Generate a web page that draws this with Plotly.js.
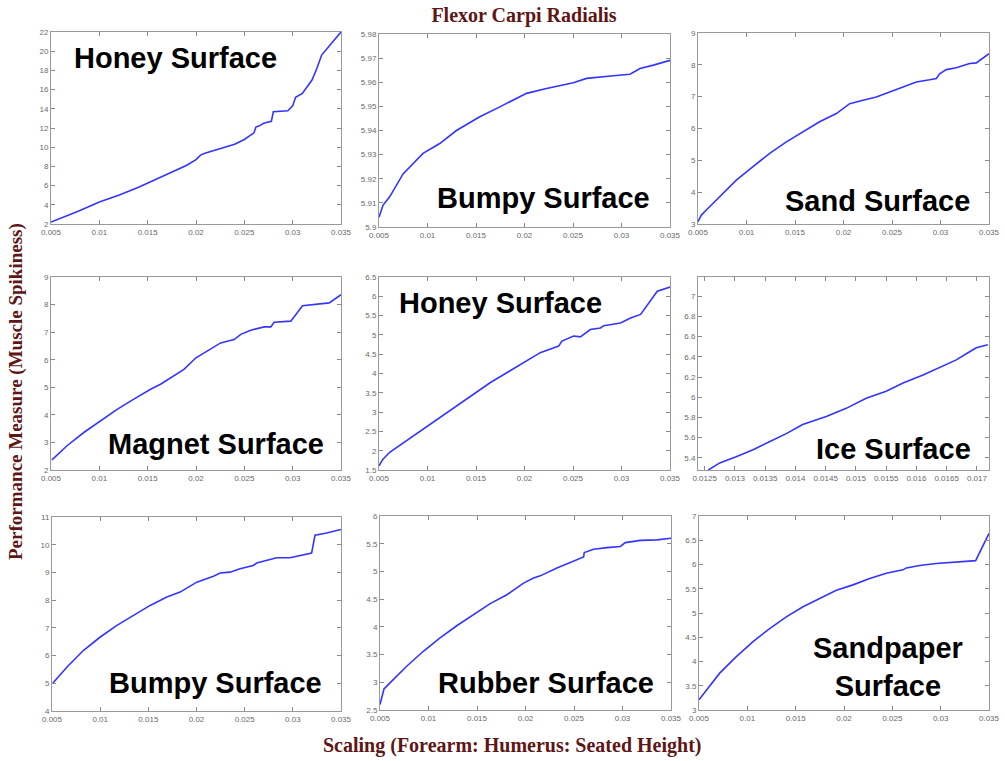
<!DOCTYPE html>
<html>
<head>
<meta charset="utf-8">
<script src="https://cdn.plot.ly/plotly-3.0.1.min.js"></script>
<style>html,body{margin:0;padding:0;background:#fff;}#chart{width:1005px;height:761px;}</style>
</head>
<body>
<div id="chart"></div>
<script>
// ---------- Data ----------
var panelLabels = ["Honey Surface","Bumpy Surface","Sand Surface","Magnet Surface","Honey Surface","Ice Surface","Bumpy Surface","Rubber Surface","Sandpaper<br>Surface"];

var honey1X = [0.005,0.006,0.008,0.010,0.012,0.014,0.016,0.018,0.019,0.020,0.0205,0.021,0.022,0.023,0.024,0.025,0.026,0.0262,0.0265,0.027,0.0275,0.0278,0.0280,0.029,0.0295,0.030,0.0303,0.031,0.0315,0.032,0.0325,0.033,0.034,0.035];
var honey1Y = [2.2,2.6,3.4,4.3,5.0,5.8,6.7,7.6,8.1,8.7,9.2,9.4,9.7,10.0,10.3,10.8,11.5,12.1,12.2,12.5,12.6,12.7,13.7,13.75,13.8,14.3,15.2,15.6,16.3,17.0,18.2,19.6,20.8,22.0];

var bumpy1X = [0.005,0.00541,0.0061,0.00748,0.00954,0.01126,0.01298,0.01539,0.01746,0.02021,0.02227,0.02503,0.0264,0.02778,0.02916,0.03088,0.03191,0.03329,0.035];
var bumpy1Y = [5.904,5.909,5.9125,5.922,5.9305,5.9346,5.940,5.9457,5.9498,5.9554,5.9574,5.9598,5.9616,5.9623,5.9627,5.9633,5.9657,5.9671,5.9691];

var sandX = [0.005,0.00534,0.00586,0.00723,0.00895,0.01067,0.01239,0.01411,0.01582,0.01754,0.01926,0.02064,0.02201,0.02338,0.02476,0.02613,0.02751,0.02888,0.02957,0.02991,0.0306,0.03163,0.03301,0.03369,0.035];
var sandY = [3.07,3.28,3.44,3.86,4.38,4.80,5.22,5.58,5.89,6.21,6.47,6.78,6.89,6.99,7.15,7.30,7.46,7.53,7.57,7.72,7.85,7.91,8.04,8.06,8.35];

var magnetX = [0.0051,0.00666,0.00839,0.01011,0.01184,0.01357,0.0153,0.01633,0.01772,0.01875,0.0200,0.02117,0.02255,0.02324,0.02394,0.02463,0.02566,0.02705,0.02774,0.02808,0.02981,0.03102,0.03223,0.03378,0.035];
var magnetY = [2.37,2.88,3.36,3.78,4.20,4.57,4.93,5.11,5.41,5.65,6.07,6.31,6.61,6.67,6.73,6.92,7.07,7.19,7.19,7.36,7.40,7.96,8.00,8.06,8.36];

var honey2X = [0.005,0.00541,0.0061,0.00783,0.00955,0.01128,0.0130,0.01472,0.01645,0.01817,0.0199,0.02162,0.02352,0.02386,0.02507,0.02576,0.02679,0.02783,0.02817,0.0299,0.03093,0.03197,0.03369,0.035];
var honey2Y = [1.61,1.78,1.96,2.26,2.56,2.86,3.16,3.46,3.76,4.02,4.28,4.54,4.71,4.84,4.97,4.95,5.14,5.18,5.24,5.31,5.44,5.53,6.13,6.24];

var iceX = [0.01256,0.01275,0.01302,0.0133,0.01357,0.01385,0.01412,0.01451,0.01484,0.01517,0.0155,0.01578,0.01611,0.01638,0.01666,0.01688,0.01699,0.01718];
var iceY = [5.28,5.35,5.41,5.48,5.56,5.64,5.73,5.81,5.89,5.99,6.06,6.14,6.22,6.29,6.37,6.45,6.49,6.52];

var bumpy2X = [0.0051,0.00552,0.00656,0.00828,0.01001,0.01174,0.01347,0.01519,0.01692,0.0183,0.02003,0.02176,0.02245,0.02349,0.02452,0.0259,0.02625,0.02729,0.02832,0.02971,0.03074,0.03195,0.0323,0.03351,0.035];
var bumpy2Y = [5.01,5.17,5.59,6.19,6.67,7.09,7.45,7.81,8.11,8.29,8.65,8.86,8.98,9.01,9.13,9.25,9.34,9.44,9.53,9.53,9.62,9.70,10.34,10.42,10.55];

var rubberX = [0.005,0.00517,0.00541,0.00603,0.00775,0.00947,0.01119,0.01291,0.01464,0.01636,0.01808,0.0198,0.02083,0.02152,0.02324,0.02496,0.02565,0.02599,0.02606,0.02702,0.0284,0.02978,0.03029,0.03184,0.03356,0.035];
var rubberY = [2.60,2.72,2.88,2.99,3.29,3.56,3.80,4.02,4.22,4.42,4.58,4.79,4.88,4.92,5.06,5.18,5.24,5.26,5.34,5.40,5.43,5.45,5.52,5.56,5.57,5.60];

var sandpaperX = [0.005,0.0061,0.00714,0.00886,0.01059,0.01231,0.01403,0.01576,0.01748,0.01921,0.02093,0.02266,0.02438,0.0261,0.02645,0.02783,0.02955,0.03128,0.03362,0.035];
var sandpaperY = [3.21,3.48,3.76,4.10,4.41,4.68,4.92,5.13,5.30,5.47,5.58,5.71,5.82,5.89,5.93,5.98,6.02,6.04,6.08,6.64];

var seriesX = [honey1X,bumpy1X,sandX,magnetX,honey2X,iceX,bumpy2X,rubberX,sandpaperX];
var seriesY = [honey1Y,bumpy1Y,sandY,magnetY,honey2Y,iceY,bumpy2Y,rubberY,sandpaperY];

// axis ranges / ticks
var xRanges = [[0.005,0.035],[0.005,0.035],[0.005,0.035],[0.005,0.035],[0.005,0.035],[0.01239,0.0172],[0.005,0.035],[0.005,0.035],[0.005,0.035]];
var xTick0 = [0.005,0.005,0.005,0.005,0.005,0.0125,0.005,0.005,0.005];
var xDtick = [0.005,0.005,0.005,0.005,0.005,0.0005,0.005,0.005,0.005];
var yRanges = [[2,22],[5.9,5.98],[3,9],[2,9],[1.5,6.5],[5.28,7.19],[4,11],[2.5,6],[3,7]];
var yTick0 = [2,5.9,3,2,1.5,5.4,4,2.5,3];
var yDtick = [2,0.01,1,1,0.5,0.2,1,0.5,0.5];

// ---------- Layout geometry (pixels) ----------
var W = 1005, H = 761;
var boxes = [
  [51,341,32,224],[379,670,34,227],[698,989,33,224],
  [51,341,277,470],[379,670,277,470],[698,989,277,470],
  [52,341,517,711],[380,671,516,710],[699,989,516,710]
];
var labelPos = [[175,58],[543,198],[877,201],[216,444],[500,303],[893,449],[215,683],[546,683],[888,667]];

var traces = [], layout = {
  width: W, height: H,
  margin: {l:0,r:0,t:0,b:0},
  paper_bgcolor: '#fff', plot_bgcolor: '#fff',
  showlegend: false,
  font: {family: 'Liberation Sans, Arial, sans-serif'},
  title: {text: 'Flexor Carpi Radialis', x: 524/W, xanchor: 'center', y: 1 - 15/H, yanchor: 'middle',
          font: {family: 'Liberation Serif, Times New Roman, serif', size: 20, color: '#5e1616', weight: 'bold'}},
  annotations: []
};

for (var i = 0; i < 9; i++) {
  var n = i === 0 ? '' : String(i + 1);
  var b = boxes[i];
  traces.push({
    type: 'scatter', mode: 'lines',
    x: seriesX[i], y: seriesY[i],
    xaxis: 'x' + n, yaxis: 'y' + n,
    line: {color: '#3434ff', width: 1.6},
    hoverinfo: 'skip'
  });
  var common = {
    showgrid: false, zeroline: false, showline: true, linecolor: '#9a9a9a', linewidth: 1,
    mirror: 'ticks', ticks: 'inside', ticklen: 4, tickcolor: '#8a8a8a', tickwidth: 1,
    tickfont: {size: 8, color: '#6a6a6a', family: 'Liberation Sans, Arial, sans-serif'},
    tickmode: 'linear', fixedrange: true
  };
  var xa = Object.assign({}, common, {
    domain: [b[0]/W, b[1]/W], range: xRanges[i], tick0: xTick0[i], dtick: xDtick[i],
    anchor: 'y' + n
  });
  var ya = Object.assign({}, common, {
    domain: [1 - b[3]/H, 1 - b[2]/H], range: yRanges[i], tick0: yTick0[i], dtick: yDtick[i],
    anchor: 'x' + n
  });
  layout['xaxis' + n] = xa;
  layout['yaxis' + n] = ya;
  layout.annotations.push({
    text: panelLabels[i], xref: 'paper', yref: 'paper',
    x: labelPos[i][0]/W, y: 1 - labelPos[i][1]/H, xanchor: 'center', yanchor: 'middle',
    showarrow: false, align: 'center',
    font: {family: 'Liberation Sans, Arial, sans-serif', size: 29, color: '#000', weight: 'bold'}
  });
}

layout.annotations.push({
  text: 'Scaling (Forearm: Humerus: Seated Height)', xref: 'paper', yref: 'paper',
  x: 512/W, y: 1 - 745/H, xanchor: 'center', yanchor: 'middle', showarrow: false,
  font: {family: 'Liberation Serif, Times New Roman, serif', size: 20, color: '#5e1616', weight: 'bold'}
});
layout.annotations.push({
  text: 'Performance Measure (Muscle Spikiness)', xref: 'paper', yref: 'paper',
  x: 16/W, y: 1 - 392/H, xanchor: 'center', yanchor: 'middle', showarrow: false, textangle: -90,
  font: {family: 'Liberation Serif, Times New Roman, serif', size: 19, color: '#5e1616', weight: 'bold'}
});

Plotly.newPlot('chart', traces, layout, {displayModeBar: false, staticPlot: true});
</script>
</body>
</html>
